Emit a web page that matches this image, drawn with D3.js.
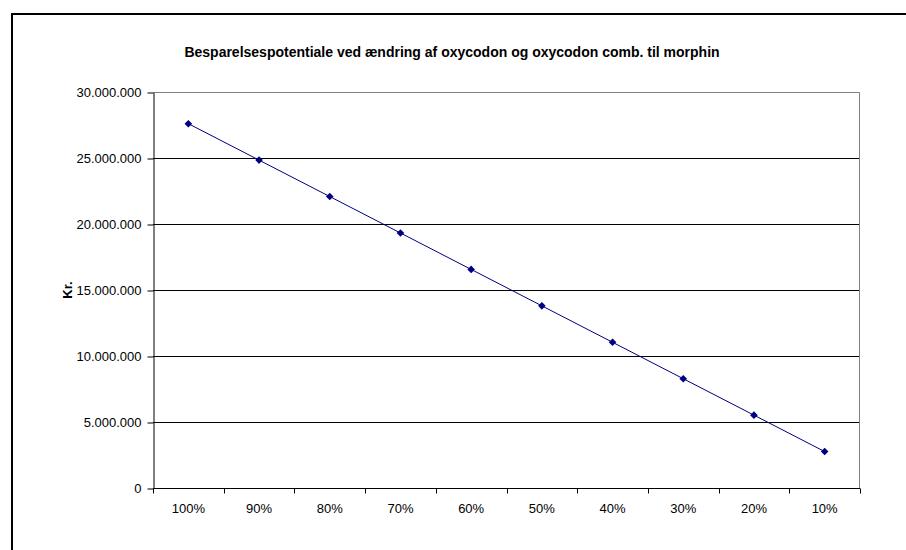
<!DOCTYPE html>
<html>
<head>
<meta charset="utf-8">
<script src="https://cdn.jsdelivr.net/npm/d3@7"></script>
<style>
  html, body { margin: 0; padding: 0; background: #fff; }
  svg { display: block; font-family: Arial, "Liberation Sans", sans-serif; }
</style>
</head>
<body>
<svg id="chart" width="906" height="550"></svg>
<script>
// Share of oxycodon switched to morphin, and the resulting saving in Kr.
const categories = ["100%", "90%", "80%", "70%", "60%", "50%", "40%", "30%", "20%", "10%"];
const savings = [27600000, 24840000, 22080000, 19320000, 16560000, 13800000, 11040000, 8280000, 5520000, 2760000];
const yTicks = [0, 5000000, 10000000, 15000000, 20000000, 25000000, 30000000];
const titleText = "Besparelsespotentiale ved ændring af oxycodon og oxycodon comb. til morphin";
const yLabel = "Kr.";

const svg = d3.select("#chart");

// Outer chart frame
svg.append("rect")
  .attr("x", 12).attr("y", 14)
  .attr("width", 1000).attr("height", 1000)
  .attr("fill", "#fff").attr("stroke", "#000").attr("stroke-width", 2);

const plot = { left: 153, top: 92, right: 860, bottom: 488 };

const x = d3.scaleBand().domain(categories).range([plot.left, plot.right]).padding(0);
const y = d3.scaleLinear().domain([0, 30000000]).range([plot.bottom, plot.top]);

const fmt = v => d3.format(",")(v).replace(/,/g, ".");

// Horizontal gridlines
svg.append("g")
  .selectAll("line")
  .data(yTicks.filter(t => t > 0 && t < 30000000))
  .join("line")
  .attr("x1", plot.left).attr("x2", plot.right)
  .attr("y1", d => Math.round(y(d)) + 0.5).attr("y2", d => Math.round(y(d)) + 0.5)
  .attr("stroke", "#000").attr("stroke-width", 1);

// Plot area border (top and right)
svg.append("path")
  .attr("d", `M${plot.left},${plot.top + 0.5}H${plot.right - 0.5}V${plot.bottom}`)
  .attr("fill", "none").attr("stroke", "#808080").attr("stroke-width", 1);

// Y axis
const yAxis = d3.axisLeft(y).tickValues(yTicks).tickFormat(fmt).tickSizeInner(6).tickSizeOuter(0).tickPadding(6);
const yg = svg.append("g")
  .attr("transform", `translate(${plot.left + 0.5},0.5)`)
  .call(yAxis);
yg.select(".domain").attr("stroke", "#000");
yg.selectAll(".tick line").attr("stroke", "#000");
yg.selectAll(".tick text").attr("font-size", "13px").attr("fill", "#000")
  .attr("font-family", "Arial, 'Liberation Sans', sans-serif");

// X axis with ticks between categories
const xg = svg.append("g")
  .attr("transform", `translate(0,${plot.bottom + 0.5})`);
xg.append("line")
  .attr("x1", plot.left).attr("x2", plot.right)
  .attr("stroke", "#000");
const bounds = categories.map(c => x(c)).concat([x(categories[categories.length - 1]) + x.bandwidth()]);
xg.selectAll("line.tick")
  .data(bounds)
  .join("line")
  .attr("class", "tick")
  .attr("x1", d => Math.round(d) + 0.5).attr("x2", d => Math.round(d) + 0.5)
  .attr("y1", 0).attr("y2", 5)
  .attr("stroke", "#000");
xg.selectAll("text")
  .data(categories)
  .join("text")
  .attr("x", d => x(d) + x.bandwidth() / 2)
  .attr("y", 24)
  .attr("text-anchor", "middle")
  .attr("font-size", "13px")
  .attr("fill", "#000")
  .text(d => d);

// Series line
const line = d3.line()
  .x((d, i) => x(categories[i]) + x.bandwidth() / 2)
  .y(d => y(d));
svg.append("path")
  .datum(savings)
  .attr("d", line)
  .attr("fill", "none")
  .attr("stroke", "#000080")
  .attr("stroke-width", 1);

// Diamond markers
svg.append("g")
  .selectAll("path")
  .data(savings)
  .join("path")
  .attr("transform", (d, i) => `translate(${x(categories[i]) + x.bandwidth() / 2},${y(d)})`)
  .attr("d", "M0,-3.8L3.8,0L0,3.8L-3.8,0Z")
  .attr("fill", "#000080");

// Title
svg.append("text")
  .attr("x", 452).attr("y", 57)
  .attr("text-anchor", "middle")
  .attr("font-size", "14px")
  .attr("font-weight", "bold")
  .attr("fill", "#000")
  .text(titleText);

// Y axis title
svg.append("text")
  .attr("transform", `translate(72,${(plot.top + plot.bottom) / 2}) rotate(-90)`)
  .attr("text-anchor", "middle")
  .attr("font-size", "13px")
  .attr("font-weight", "bold")
  .attr("fill", "#000")
  .text(yLabel);
</script>
</body>
</html>
